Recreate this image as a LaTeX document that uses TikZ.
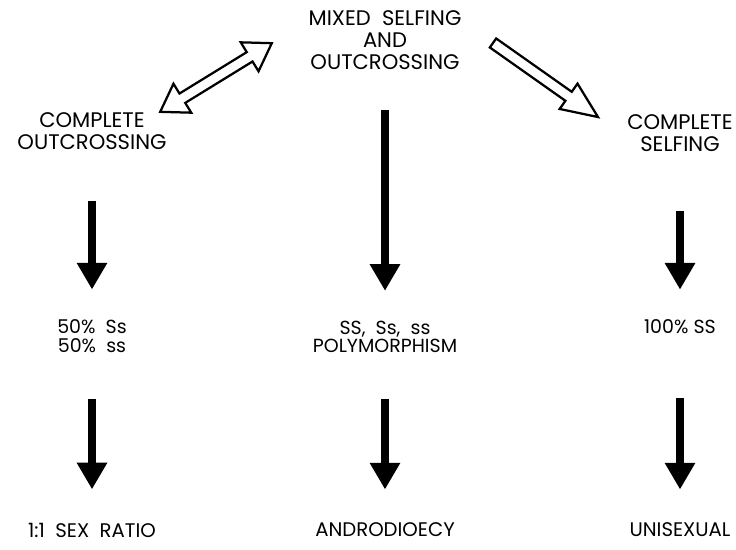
\documentclass[tikz,border=0pt]{standalone}
\usepackage{fontspec}
\setmainfont{Poppins}
\usetikzlibrary{arrows.meta}

\begin{document}
\begin{tikzpicture}[x=0.025cm, y=-0.025cm,
    lbl/.style={align=center, inner sep=0pt, font=\fontsize{15}{15.6}\selectfont},
    small/.style={align=center, inner sep=0pt, font=\fontsize{13.5}{13}\selectfont},
    foot/.style={align=center, inner sep=0pt, font=\fontsize{14}{16}\selectfont},
    down/.style={line width=5pt, -{Triangle[width=20.5pt, length=19pt]}},
    hollow/.style={line width=1.6pt, line join=miter, fill=white}]
  \useasboundingbox (0,0) rectangle (736,549);

  % TOP
  \node[lbl] (mixed) at (385,40) {MIXED\ \ SELFING\\AND\\OUTCROSSING};
  \node[lbl] (outc) at (92,131) {COMPLETE\\OUTCROSSING};
  \node[lbl] (self) at (680,133) {COMPLETE\\SELFING};

  % Fleches creuses
  \begin{scope}[shift={(216,77.5)}, rotate=31.6]
    \draw[hollow] (-65.5,0) -- (-39.5,17) -- (-39.5,5.5) -- (39.5,5.5) -- (39.5,17)
      -- (65.5,0) -- (39.5,-17) -- (39.5,-5.5) -- (-39.5,-5.5) -- (-39.5,-17) -- cycle;
  \end{scope}
  \begin{scope}[shift={(545.5,80)}, rotate=-35.2]
    \draw[hollow] (-64.25,5.5) -- (28.25,5.5) -- (28.25,15.5) -- (64.25,0)
      -- (28.25,-15.5) -- (28.25,-5.5) -- (-64.25,-5.5) -- cycle;
  \end{scope}

  % GENOTYPES
  \node[small] (genl) at (92,336) {50\%\ \ Ss\\50\%\ \ ss};
  \node[small] (poly) at (385,337) {SS,\ \ Ss,\ \ ss\\POLYMORPHISM};
  \node[small] (hund) at (680,327) {100\% SS};

  % RESULTATS
  \node[foot] (ratio) at (92,530) {1:1\ \ SEX\ \ RATIO};
  \node[foot] (andro) at (385,530) {ANDRODIOECY};
  \node[foot] (unis) at (680,530) {UNISEXUAL};

  % Fleches noires
  \draw[down, shorten <=1.27cm, shorten >=0.75cm] (outc) -- (genl);
  \draw[down, shorten <=1.0cm, shorten >=0.75cm] (mixed) -- (poly);
  \draw[down, shorten <=1.47cm, shorten >=0.75cm] (self) -- (hund);
  \draw[down, shorten <=1.15cm, shorten >=0.83cm] (genl) -- (ratio);
  \draw[down, shorten <=1.15cm, shorten >=0.83cm] (poly) -- (andro);
  \draw[down, shorten <=1.6cm, shorten >=0.83cm] (hund) -- (unis);
\end{tikzpicture}
\end{document}
